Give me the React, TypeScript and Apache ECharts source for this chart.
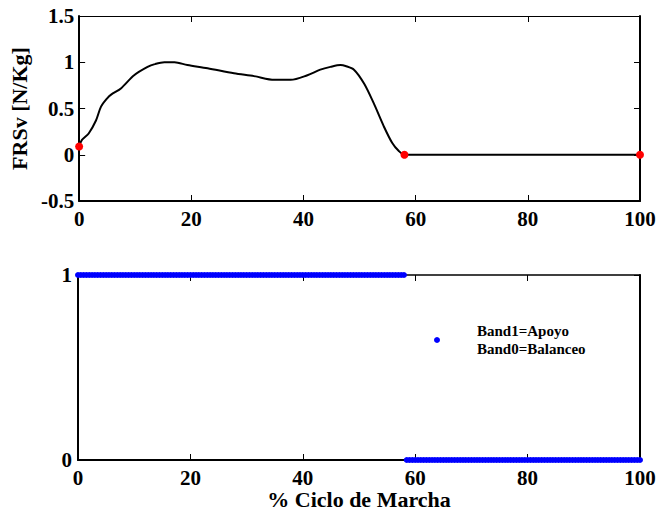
import React, { useEffect, useRef } from "react";
import * as echarts from "echarts";

// % gait cycle samples of the vertical ground reaction force
const curveX = [0, 0.5, 1.7, 3, 3.9, 5, 5.7, 7.5, 9.8, 12.2, 13.5, 15.2, 17, 19.3, 22.9, 27.6, 31.2, 34.8, 37.7, 40.7, 43, 44.8, 46.6, 47.5, 49, 50.8, 52.5, 54.3, 55.8, 57, 58, 100];
const curveY = [0.09, 0.16, 0.23, 0.37, 0.52, 0.61, 0.65, 0.72, 0.86, 0.95, 0.98, 1.0, 1.0, 0.97, 0.935, 0.88, 0.85, 0.81, 0.81, 0.86, 0.92, 0.95, 0.97, 0.96, 0.92, 0.77, 0.56, 0.31, 0.13, 0.04, 0.0, 0.0];

// red event markers
const eventX = [0, 58, 100];
const eventY = [0.09, 0, 0];

// phase flags: 1 = stance (apoyo), 0 = swing (balanceo)
const bandStep = 0.5;
const stanceStart = 0;
const stanceEnd = 58;
const swingStart = 58.5;
const swingEnd = 100;
const stanceFlag = 1;
const swingFlag = 0;

const xTicks = ["0", "20", "40", "60", "80", "100"];

const FONT = "'Liberation Serif', 'Times New Roman', serif";

function buildBand(): number[][] {
  const pts: number[][] = [];
  for (let x = stanceStart; x <= stanceEnd + 1e-9; x += bandStep) pts.push([x, stanceFlag]);
  for (let x = swingStart; x <= swingEnd + 1e-9; x += bandStep) pts.push([x, swingFlag]);
  return pts;
}

export default function App() {
  const ref = useRef<HTMLDivElement>(null);
  useEffect(() => {
    if (!ref.current) return;
    const chart = echarts.init(ref.current, null, { renderer: "svg" });
    const labelStyle = { color: "#000", fontFamily: FONT, fontWeight: "bold" as const, fontSize: 21 };
    const nameStyle = { color: "#000", fontFamily: FONT, fontWeight: "bold" as const, fontSize: 22 };
    const lineBase = (w: number) => ({ show: true, onZero: false, lineStyle: { color: "#000", width: w } });
    const tick = { show: true, inside: true, length: 6, lineStyle: { color: "#000", width: 1 } };
    const xBase = (grid: number, pos: "bottom" | "top", labels: boolean, w: number) => ({
      type: "value" as const,
      gridIndex: grid,
      position: pos,
      min: 0,
      max: 100,
      interval: 20,
      axisLine: lineBase(w),
      axisTick: tick,
      splitLine: { show: false },
      axisLabel: labels
        ? { show: true, margin: 7, ...labelStyle, formatter: (v: number) => xTicks[Math.round(v / 20)] ?? String(v) }
        : { show: false },
    });
    chart.setOption({
      animation: false,
      backgroundColor: "#fff",
      grid: [
        { left: 78, top: 16, width: 562, height: 185 },
        { left: 78, top: 275, width: 562, height: 185 },
      ],
      legend: {
        data: ["Band1=Apoyo"],
        left: 429,
        top: 317,
        itemWidth: 70,
        itemHeight: 6,
        icon: "circle",
        formatter: () => "Band1=Apoyo\nBand0=Balanceo",
        textStyle: { color: "#000", fontFamily: FONT, fontWeight: "bold", fontSize: 15, lineHeight: 18 },
      },
      xAxis: [
        xBase(0, "bottom", true, 2),
        xBase(0, "top", false, 1),
        {
          ...xBase(1, "bottom", true, 2),
          name: "% Ciclo de Marcha",
          nameLocation: "middle",
          nameGap: 25,
          nameTextStyle: nameStyle,
        },
        xBase(1, "top", false, 1.5),
      ],
      yAxis: [
        {
          type: "value",
          gridIndex: 0,
          position: "left",
          min: -0.5,
          max: 1.5,
          interval: 0.5,
          axisLine: lineBase(2),
          axisTick: tick,
          splitLine: { show: false },
          axisLabel: { show: true, margin: 5, ...labelStyle },
          name: "FRSv [N/Kg]",
          nameLocation: "middle",
          nameGap: 49,
          nameTextStyle: nameStyle,
        },
        {
          type: "value",
          gridIndex: 0,
          position: "right",
          min: -0.5,
          max: 1.5,
          interval: 0.5,
          axisLine: lineBase(2),
          axisTick: tick,
          splitLine: { show: false },
          axisLabel: { show: false },
        },
        {
          type: "value",
          gridIndex: 1,
          position: "left",
          min: 0,
          max: 1,
          interval: 1,
          axisLine: lineBase(2),
          axisTick: tick,
          splitLine: { show: false },
          axisLabel: { show: true, margin: 6, ...labelStyle },
        },
        {
          type: "value",
          gridIndex: 1,
          position: "right",
          min: 0,
          max: 1,
          interval: 1,
          axisLine: lineBase(2),
          axisTick: tick,
          splitLine: { show: false },
          axisLabel: { show: false },
        },
      ],
      series: [
        {
          name: "FRSv",
          type: "line",
          xAxisIndex: 0,
          yAxisIndex: 0,
          data: curveX.map((x, i) => [x, curveY[i]]),
          showSymbol: false,
          smooth: 0.3,
          lineStyle: { color: "#000", width: 2 },
          itemStyle: { color: "#000" },
          z: 3,
        },
        {
          name: "Eventos",
          type: "scatter",
          xAxisIndex: 0,
          yAxisIndex: 0,
          data: eventX.map((x, i) => [x, eventY[i]]),
          symbolSize: 8,
          itemStyle: { color: "#ff0000", opacity: 1 },
          clip: false,
          z: 4,
        },
        {
          name: "Band1=Apoyo",
          type: "scatter",
          xAxisIndex: 2,
          yAxisIndex: 2,
          data: buildBand(),
          symbolSize: 6,
          clip: false,
          itemStyle: { color: "#0000ff", opacity: 1 },
          z: 4,
        },
      ],
    });
    return () => chart.dispose();
  }, []);
  return <div ref={ref} style={{ width: 660, height: 512, position: "absolute", left: 0, top: 0 }} />;
}
